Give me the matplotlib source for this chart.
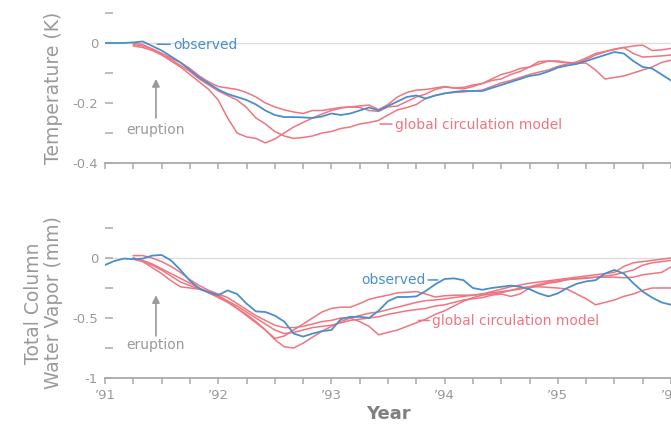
import matplotlib
matplotlib.use("Agg")
import matplotlib.pyplot as plt
import matplotlib.ticker as mticker
import numpy as np

# monthly values, Jan 1991 = month 0
temp_obs = [0.0, 0.0, 0.0, 0.002, 0.005, -0.01, -0.025, -0.045, -0.065, -0.09,
            -0.115, -0.135, -0.155, -0.17, -0.18, -0.19, -0.205, -0.225, -0.24, -0.247,
            -0.247, -0.248, -0.25, -0.245, -0.235, -0.24, -0.235, -0.225, -0.215, -0.225,
            -0.21, -0.195, -0.18, -0.175, -0.185, -0.175, -0.168, -0.163, -0.16, -0.16,
            -0.16, -0.15, -0.14, -0.13, -0.12, -0.11, -0.105, -0.095, -0.082, -0.075,
            -0.07, -0.06, -0.05, -0.04, -0.03, -0.035, -0.06, -0.08, -0.085, -0.105, -0.125]

# model runs start in April 1991 (month 3)
temp_gcm = [
    [-0.01, -0.015, -0.025, -0.04, -0.06, -0.08, -0.105, -0.13, -0.155, -0.19,
     -0.25, -0.3, -0.313, -0.318, -0.333, -0.32, -0.3, -0.28, -0.265, -0.25,
     -0.237, -0.225, -0.217, -0.213, -0.21, -0.207, -0.222, -0.205, -0.18, -0.165,
     -0.157, -0.155, -0.15, -0.145, -0.15, -0.153, -0.145, -0.135, -0.12, -0.105,
     -0.097, -0.085, -0.08, -0.07, -0.06, -0.06, -0.065, -0.067, -0.067, -0.09,
     -0.12, -0.115, -0.11, -0.1, -0.09, -0.08, -0.065, -0.057],
    [0.0, -0.005, -0.02, -0.035, -0.055, -0.075, -0.095, -0.12, -0.14, -0.16,
     -0.175, -0.19, -0.215, -0.25, -0.27, -0.295, -0.31, -0.318, -0.315, -0.31,
     -0.3, -0.295, -0.285, -0.28, -0.27, -0.265, -0.258, -0.24, -0.223, -0.215,
     -0.205, -0.185, -0.175, -0.168, -0.165, -0.163, -0.16, -0.157, -0.145, -0.133,
     -0.125, -0.115, -0.105, -0.097, -0.09, -0.078, -0.07, -0.063, -0.05, -0.035,
     -0.028, -0.022, -0.015, -0.01, -0.007, -0.025, -0.023, -0.018],
    [-0.005, -0.01, -0.02, -0.035, -0.05, -0.065, -0.085, -0.11, -0.13, -0.145,
     -0.15, -0.155, -0.165, -0.18, -0.2, -0.213, -0.223, -0.23, -0.235, -0.225,
     -0.225, -0.22, -0.215, -0.213, -0.215, -0.225, -0.228, -0.213, -0.21, -0.195,
     -0.18, -0.17, -0.155, -0.147, -0.15, -0.148, -0.14, -0.135, -0.125, -0.12,
     -0.105, -0.095, -0.08, -0.062, -0.06, -0.063, -0.066, -0.068, -0.055, -0.04,
     -0.03, -0.02, -0.015, -0.035, -0.047, -0.045, -0.043, -0.04],
]

vapor_obs = [-0.058, -0.025, -0.005, -0.01, -0.005, 0.02, 0.025, -0.02, -0.1, -0.19,
             -0.255, -0.285, -0.31, -0.27, -0.3, -0.38, -0.445, -0.45, -0.48, -0.53,
             -0.63, -0.655, -0.63, -0.61, -0.6, -0.51, -0.49, -0.49, -0.5, -0.44,
             -0.36, -0.325, -0.325, -0.32, -0.275, -0.22, -0.175, -0.17, -0.185, -0.25,
             -0.265, -0.25, -0.24, -0.23, -0.24, -0.26, -0.295, -0.32, -0.295, -0.25,
             -0.215, -0.195, -0.185, -0.13, -0.1, -0.13, -0.21, -0.28, -0.33, -0.37, -0.39]

vapor_gcm = [
    [0.02, 0.02, 0.0, -0.03, -0.07, -0.12, -0.18, -0.23, -0.27, -0.3,
     -0.33, -0.38, -0.43, -0.48, -0.52, -0.56, -0.58, -0.58, -0.57, -0.55,
     -0.53, -0.52, -0.5, -0.5, -0.53, -0.57, -0.64, -0.62, -0.6, -0.57,
     -0.54, -0.51, -0.47, -0.44, -0.4, -0.36, -0.33, -0.31, -0.3, -0.29,
     -0.27, -0.25, -0.24, -0.24, -0.245, -0.25, -0.26, -0.3, -0.34, -0.39,
     -0.37, -0.35, -0.32, -0.3, -0.27, -0.25, -0.25, -0.25],
    [0.0, -0.02, -0.05, -0.09, -0.13, -0.17, -0.21, -0.25, -0.29, -0.33,
     -0.37, -0.42, -0.47, -0.53, -0.6, -0.67, -0.65, -0.6, -0.55, -0.5,
     -0.45, -0.42, -0.41, -0.41, -0.38, -0.345, -0.325, -0.31, -0.29, -0.285,
     -0.28, -0.3, -0.325, -0.315, -0.31, -0.31, -0.31, -0.3, -0.28, -0.26,
     -0.24, -0.225, -0.21, -0.2, -0.19, -0.18, -0.17, -0.16, -0.15, -0.14,
     -0.13, -0.12, -0.07, -0.04, -0.03, -0.02, -0.01, 0.0],
    [-0.01, -0.03, -0.06, -0.1, -0.15, -0.2, -0.23, -0.26, -0.29, -0.32,
     -0.36, -0.4, -0.45, -0.5, -0.55, -0.6, -0.63, -0.62, -0.6, -0.58,
     -0.57, -0.56, -0.54, -0.52, -0.51, -0.5, -0.49, -0.47, -0.455, -0.44,
     -0.43, -0.42, -0.4, -0.39, -0.37, -0.35, -0.34, -0.33, -0.31, -0.3,
     -0.32, -0.3, -0.25, -0.23, -0.21, -0.2, -0.18, -0.17, -0.165, -0.16,
     -0.16, -0.16, -0.165, -0.16, -0.14, -0.13, -0.12, -0.075],
    [0.0, -0.03, -0.08, -0.13, -0.19, -0.24, -0.25, -0.26, -0.28, -0.31,
     -0.36, -0.42, -0.48, -0.54, -0.6, -0.68, -0.74, -0.75, -0.71, -0.66,
     -0.61, -0.57, -0.53, -0.5, -0.48, -0.46, -0.45, -0.43, -0.41, -0.39,
     -0.37, -0.355, -0.35, -0.34, -0.33, -0.32, -0.31, -0.3, -0.29, -0.28,
     -0.27, -0.26, -0.24, -0.22, -0.2, -0.19, -0.18, -0.175, -0.17, -0.16,
     -0.15, -0.14, -0.12, -0.1, -0.06, -0.04, -0.03, -0.02],
]

year_labels = ["\u201991", "\u201992", "\u201993", "\u201994", "\u201995", "\u201996"]
eruption = 1991.45

blue = "#4a8fcb"
red = "#ef7580"
gray = "#9a9a9a"

plt.rcParams['font.family'] = ['DejaVu Sans']

t_obs = 1991 + np.arange(len(temp_obs)) / 12
t_gcm = 1991 + (3 + np.arange(len(temp_gcm[0]))) / 12

fig = plt.figure(figsize=(6.71, 4.26), dpi=100)
ax1 = fig.add_axes([105 / 671, 0.6174, 1 - 105 / 671, 0.3521])
ax2 = fig.add_axes([105 / 671, 0.1127, 1 - 105 / 671, 0.3521])


def style(ax, lo, hi, major, minor):
    ax.set_xlim(1991, 1996)
    ax.set_ylim(lo, hi)
    for s in ("top", "right", "left"):
        ax.spines[s].set_visible(False)
    ax.spines["bottom"].set_color("#aaaaaa")
    ax.spines["bottom"].set_linewidth(1.3)
    ax.axhline(0, color="#dddddd", lw=1.0, zorder=0)
    ax.xaxis.set_major_locator(mticker.MultipleLocator(1))
    ax.xaxis.set_minor_locator(mticker.MultipleLocator(0.25))
    ax.yaxis.set_major_locator(mticker.MultipleLocator(major))
    ax.yaxis.set_minor_locator(mticker.MultipleLocator(minor))
    ax.tick_params(axis="x", which="both", direction="out", length=4, width=1.1,
                   color="#aaaaaa", labelcolor=gray, labelsize=9.5, pad=4)
    ax.tick_params(axis="y", which="both", direction="in", length=6, width=1.1,
                   color="#aaaaaa", labelcolor=gray, labelsize=9.5, pad=5)


# temperature panel
style(ax1, -0.4, 0.1, 0.2, 0.1)
for run in temp_gcm:
    ax1.plot(t_gcm, run, color=red, lw=1.1, zorder=2)
ax1.plot(t_obs, temp_obs, color=blue, lw=1.3, zorder=3)
ax1.set_xticklabels([])
ax1.yaxis.set_major_formatter(mticker.FuncFormatter(lambda v, p: "0" if abs(v) < 1e-9 else f"{v:.1f}"))
ax1.set_ylabel("Temperature (K)", color=gray, fontsize=13.5, labelpad=7)

ax1.annotate("observed", xy=(1991.46, -0.004), xytext=(1991.6, -0.006),
             color=blue, fontsize=10, va="center", ha="left",
             arrowprops=dict(arrowstyle="-", color=blue, lw=1.1, shrinkA=0, shrinkB=0))
ax1.annotate("global circulation model", xy=(1993.43, -0.27), xytext=(1993.56, -0.272),
             color=red, fontsize=10, va="center", ha="left",
             arrowprops=dict(arrowstyle="-", color=red, lw=1.1, shrinkA=0, shrinkB=0))
ax1.annotate("", xy=(eruption, -0.12), xytext=(eruption, -0.25),
             arrowprops=dict(arrowstyle="-|>", color=gray, lw=1.2, mutation_scale=11,
                             shrinkA=0, shrinkB=0))
ax1.text(eruption, -0.29, "eruption", color=gray, fontsize=10, ha="center", va="center")

# water vapor panel
style(ax2, -1, 0.25, 0.5, 0.25)
for run in vapor_gcm:
    ax2.plot(t_gcm, run, color=red, lw=1.1, zorder=2)
ax2.plot(t_obs, vapor_obs, color=blue, lw=1.3, zorder=3)
ax2.set_xticks(np.arange(1991, 1997))
ax2.set_xticklabels(year_labels)
ax2.yaxis.set_major_formatter(mticker.FuncFormatter(lambda v, p: "0" if abs(v) < 1e-9 else (f"{v:.0f}" if v == int(v) else f"{v:.1f}")))
ax2.set_ylabel("Total Column\nWater Vapor (mm)", color=gray, fontsize=13.5, labelpad=7,
               linespacing=1.05)
ax2.set_xlabel("Year", color="#808080", fontsize=13, fontweight="bold", labelpad=2)

ax2.annotate("observed", xy=(1993.94, -0.183), xytext=(1993.83, -0.183),
             color=blue, fontsize=10, va="center", ha="right",
             arrowprops=dict(arrowstyle="-", color=blue, lw=1.1, shrinkA=0, shrinkB=0))
ax2.annotate("global circulation model", xy=(1993.77, -0.52), xytext=(1993.89, -0.525),
             color=red, fontsize=10, va="center", ha="left",
             arrowprops=dict(arrowstyle="-", color=red, lw=1.1, shrinkA=0, shrinkB=0))
ax2.annotate("", xy=(eruption, -0.31), xytext=(eruption, -0.65),
             arrowprops=dict(arrowstyle="-|>", color=gray, lw=1.2, mutation_scale=11,
                             shrinkA=0, shrinkB=0))
ax2.text(eruption, -0.725, "eruption", color=gray, fontsize=10, ha="center", va="center")

fig.savefig("out.png", dpi=100, facecolor="white")
